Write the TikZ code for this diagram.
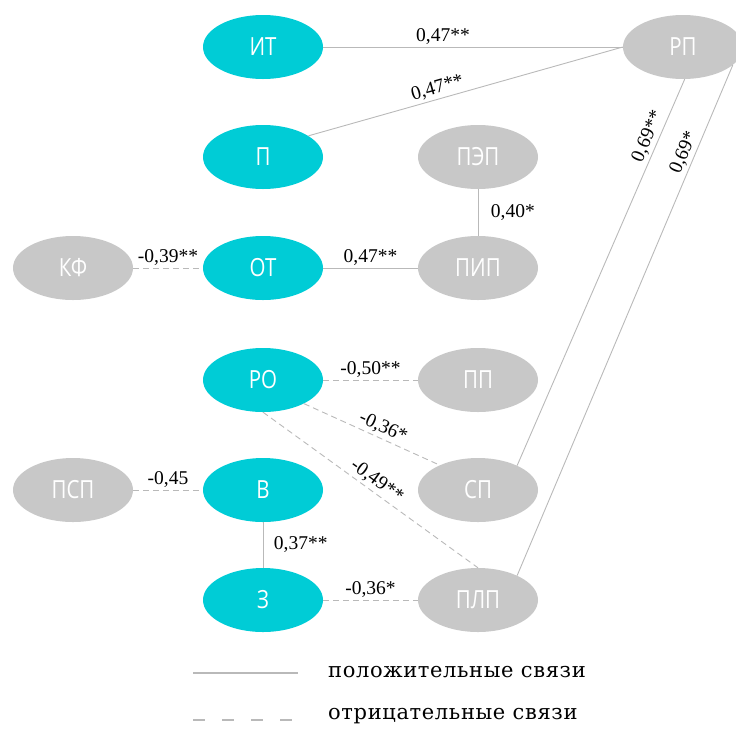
\documentclass[tikz,border=0pt]{standalone}
\usepackage{fontspec}
\setmainfont{Liberation Serif}
\newfontfamily\nodefont[FakeStretch=0.82]{Open Sans}
\newfontfamily\legendfont[LetterSpace=3]{DejaVu Serif}
\usetikzlibrary{shapes.geometric, positioning}
\definecolor{nodecyan}{RGB}{0, 204, 214}
\definecolor{nodegray}{RGB}{200, 200, 200}
\definecolor{linegray}{RGB}{185, 185, 185}

\begin{document}
\begin{tikzpicture}[x=1pt, y=-1pt]
                \tikzstyle{trait} = [ellipse, fill=nodecyan, minimum width=120pt, minimum height=64pt, inner sep=0pt, text=white, font=\nodefont\fontsize{25}{25}\selectfont]
                \tikzstyle{measure} = [trait, fill=nodegray]
                \tikzstyle{posedge} = [draw, linegray, line width=0.9pt]
                \tikzstyle{negedge} = [posedge, dash pattern=on 6pt off 4pt]
                \tikzstyle{coef} = [font=\fontsize{19.5}{19.5}\selectfont, text=black, inner sep=2.5pt]
                \tikzstyle{legend} = [font=\legendfont\fontsize{21}{21}\selectfont, text=black, anchor=west, inner sep=0pt]

                \useasboundingbox (0,0) rectangle (736,729);

                \node[trait] (it) at (263,47) {ИТ};
                \node[trait] (p) at (263,157) {П};
                \node[trait] (ot) at (263,268) {ОТ};
                \node[trait] (ro) at (263,380) {РО};
                \node[trait] (v) at (263,490) {В};
                \node[trait] (z) at (263,600) {З};
                \node[measure] (rp) at (683,47) {РП};
                \node[measure] (pep) at (478,157) {ПЭП};
                \node[measure] (pip) at (478,268) {ПИП};
                \node[measure] (kf) at (73,268) {КФ};
                \node[measure] (pp) at (478,380) {ПП};
                \node[measure] (psp) at (73,490) {ПСП};
                \node[measure] (sp) at (478,490) {СП};
                \node[measure] (plp) at (478,600) {ПЛП};

                \draw[posedge] (it) -- node[coef, above, pos=0.4] {0,47**} (rp);
                \draw[posedge] (p.25) -- node[coef, above, sloped, pos=0.42] {0,47**} (rp.west);
                \draw[posedge] (pep) -- node[coef, right=10pt] {0,40*} (pip);
                \draw[negedge] (kf) -- node[coef, above] {-0,39**} (ot);
                \draw[posedge] (ot) -- node[coef, above] {0,47**} (pip);
                \draw[negedge] (ro) -- node[coef, above] {-0,50**} (pp);
                \draw[negedge] (ro.-30) -- node[coef, above, sloped, pos=0.55] {-0,36*} (sp.147);
                \draw[negedge] (ro.south) -- node[coef, above, sloped, pos=0.5] {-0,49**} (plp.north);
                \draw[negedge] (psp) -- node[coef, above] {-0,45} (v);
                \draw[posedge] (v) -- node[coef, right=8pt] {0,37**} (z);
                \draw[negedge] (z) -- node[coef, above] {-0,36*} (plp);
                \draw[posedge] (sp.32) -- node[coef, above, sloped, pos=0.84] {0,69**} (rp.-87);
                \draw[posedge] (plp.32) -- node[coef, above, sloped, pos=0.82] {0,69*} (rp.-20);

                % legend
                \coordinate (solidA) at (193,673);
                \coordinate (solidB) at (298,673);
                \coordinate (dashA) at (193,720);
                \coordinate (dashB) at (298,720);
                \draw[posedge, line width=2.5pt] (solidA) -- (solidB);
                \draw[posedge, line width=2.5pt, dash pattern=on 12pt off 17pt] (dashA) -- (dashB);
                \node[legend] (postext) at (328,672) {положительные связи};
                \node[legend] (negtext) at (328,716) {отрицательные связи};
            \end{tikzpicture}
\end{document}
